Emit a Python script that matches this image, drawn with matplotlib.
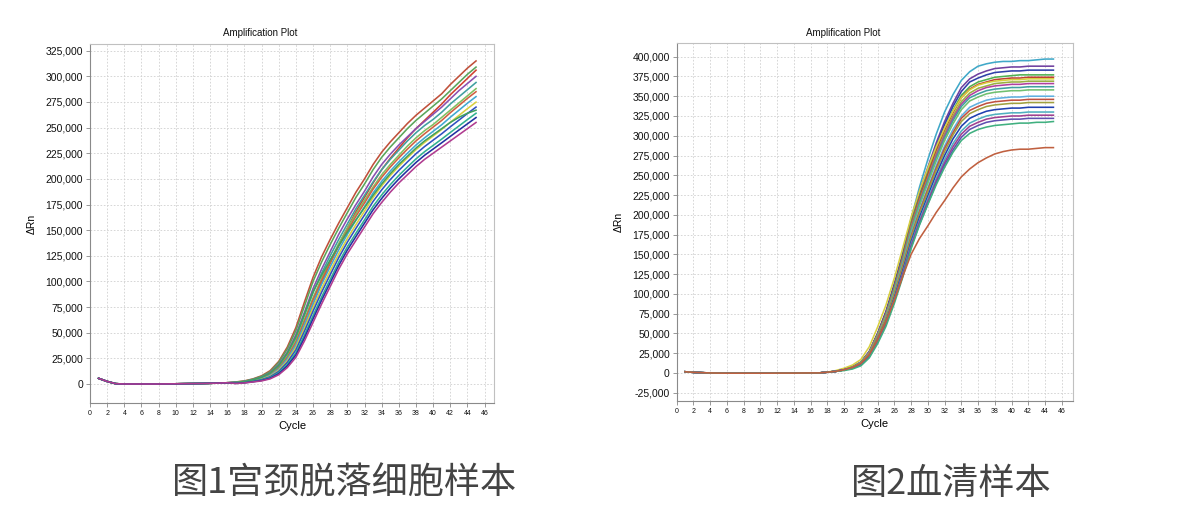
import matplotlib
matplotlib.use("Agg")
import matplotlib.pyplot as plt
from matplotlib.ticker import FuncFormatter, MultipleLocator

plt.rcParams['font.family'] = ['Liberation Sans', 'DejaVu Sans']

# values in thousands of delta Rn
cycles = list(range(1, 46))

# cycles 1-16 (baseline), shared by all wells of a plate
base1 = [5.5, 2.5, 0.3, 0, 0, 0, 0, 0, 0.1, 0.2, 0.3, 0.4, 0.5, 0.7, 0.9, 1.2]
base2 = [1.5, 0.8, 0.3, 0, -0.2, -0.3, -0.3, -0.3, -0.3, -0.3, -0.3, -0.2, -0.2, -0.2, -0.1, 0]

# cycles 17-45, cervical exfoliated cells
rise1 = [
    [2, 3, 5, 8, 13, 22, 36, 55, 80, 104, 124, 141, 157, 172, 187, 200, 214, 226, 236, 245, 254, 262, 269, 276, 283, 292, 300, 308, 315],
    [1.9, 2.8, 4.7, 7.5, 12, 21, 34, 52, 76, 100, 119, 136, 152, 167, 182, 195, 209, 221, 231, 240, 249, 257, 264, 271, 278, 286, 294, 302, 309],
    [1, 1.8, 3, 4.5, 7.5, 13, 23, 37, 56, 78, 99, 118, 136, 152, 168, 182, 196, 209, 220, 230, 240, 249, 257, 265, 273, 282, 290, 298, 306],
    [1.6, 2.5, 4.2, 6.8, 11, 19, 31, 48, 70, 93, 112, 129, 146, 161, 175, 188, 202, 214, 224, 233, 241, 249, 256, 263, 270, 278, 286, 293, 300],
    [1.5, 2.3, 4, 6.3, 10.2, 17.5, 29, 45, 67, 89, 108, 125, 141, 156, 171, 184, 197, 209, 219, 228, 237, 245, 252, 258, 265, 273, 280, 287, 294],
    [1.3, 2.1, 3.7, 5.8, 9.4, 16, 27, 42, 63, 84, 103, 120, 137, 152, 166, 179, 192, 204, 214, 223, 232, 240, 247, 253, 260, 267, 274, 281, 288],
    [1.2, 2, 3.5, 5.5, 9, 15.5, 26, 40.5, 61, 82, 101, 118, 134.5, 149.5, 163.5, 176.5, 190, 201.5, 211.5, 220.5, 229, 237, 244, 250.5, 257, 264.5, 271.5, 278.5, 285],
    [1.1, 1.8, 3.3, 5.1, 8.4, 14.5, 24.4, 38.2, 58, 78.5, 97.3, 114.3, 130.9, 145.9, 159.7, 172.7, 186.2, 197.6, 207.6, 216.6, 225, 233, 240, 246.4, 252.8, 260.1, 266.9, 273.8, 280.2],
    [1, 1.7, 3, 4.7, 7.6, 13.3, 22.6, 35.6, 54.5, 74.5, 93.2, 110.2, 126.9, 141.9, 155.5, 168.5, 181.8, 193.2, 203.2, 212.2, 220.5, 228.5, 235.5, 241.8, 248.2, 255.2, 261.8, 268.5, 274.8],
    [0.9, 1.5, 2.75, 4.25, 7, 12.25, 21, 33.25, 51.5, 71, 89.5, 106.5, 123.25, 138.25, 151.75, 164.75, 178, 189.25, 199.25, 208.25, 216.5, 224.5, 231.5, 237.75, 244, 250.75, 257.25, 263.75, 270],
    [1.5, 2.4, 4.1, 6.5, 10.6, 18, 30, 46, 68, 90, 106, 121, 135, 148, 160, 172, 184, 195, 205, 214, 222, 230, 237, 243, 249, 255, 260, 264, 267],
    [0.7, 1.3, 2.45, 3.75, 6.2, 10.95, 19, 30.35, 47.7, 66.6, 84.9, 101.9, 118.75, 133.75, 147.05, 160.05, 173.2, 184.35, 194.35, 203.35, 211.5, 219.5, 226.5, 232.65, 238.8, 245.25, 251.55, 257.85, 264],
    [0.6, 1.2, 2.2, 3.4, 5.6, 10, 17.6, 28.3, 45, 63.5, 81.7, 98.7, 115.6, 130.6, 143.8, 156.8, 169.8, 180.9, 190.9, 199.9, 208, 216, 223, 229.1, 235.2, 241.4, 247.6, 253.7, 259.8],
    [0.5, 1, 2, 3, 5, 9, 16, 26, 42, 60, 78, 95, 112, 127, 140, 153, 166, 177, 187, 196, 204, 212, 219, 225, 231, 237, 243, 249, 255],
]
colors1 = ['#c0503a', '#5aa55a', '#d04030', '#8a4fb0', '#40a0a0', '#80c060', '#d06040',
           '#40a8d0', '#d8d040', '#3050c0', '#40a060', '#30b090', '#2030a0', '#b03c90']

# cycles 17-45, serum
rise2 = [
    [0, 1, 2, 4, 6, 10, 20, 40, 70, 108, 150, 195, 235, 270, 302, 330, 352, 370, 381, 388, 391, 393, 394, 394, 395, 395, 396, 397, 397],
    [0, 1, 2, 5, 8, 14, 27, 50, 78, 113, 151, 194, 229, 260, 291, 318, 341, 361, 372, 378, 382, 385, 386, 387, 387, 388, 388, 388, 388],
    [0, 1, 2, 5, 8, 13, 27, 50, 77, 111, 149, 192, 226, 257, 287, 314, 337, 356, 368, 373, 377, 380, 381, 382, 382, 383, 383, 383, 383],
    [0, 1, 2, 5, 8, 13, 26, 49, 75, 109, 147, 189, 222, 253, 283, 309, 332, 351, 362, 368, 371, 374, 375, 376, 377, 377, 377, 377, 377],
    [0, 1, 2, 4, 7, 13, 26, 49, 75, 108, 146, 187, 221, 251, 281, 307, 329, 348, 359, 365, 368, 371, 372, 373, 373, 374, 374, 374, 374],
    [0, 1, 3, 6, 10, 17, 33, 58, 86, 120, 158, 197, 230, 259, 286, 310, 331, 348, 358, 364, 367, 369, 370, 371, 371, 372, 372, 372, 372],
    [0, 1, 2, 4, 7, 13, 26, 48, 74, 107, 144, 185, 218, 247, 277, 303, 325, 343, 354, 360, 363, 366, 367, 368, 368, 369, 369, 369, 369],
    [0, 1, 2, 4, 7, 13, 26, 48, 73, 106, 143, 183, 216, 245, 275, 300, 322, 340, 351, 357, 361, 363, 364, 365, 365, 366, 366, 366, 366],
    [0, 1, 2, 4, 7, 13, 25, 47, 72, 105, 141, 181, 214, 243, 272, 297, 319, 337, 348, 353, 357, 359, 360, 361, 361, 362, 362, 362, 362],
    [0, 1, 2, 4, 7, 13, 25, 47, 72, 104, 140, 179, 211, 240, 268, 294, 315, 333, 344, 349, 353, 355, 356, 357, 357, 358, 358, 358, 358],
    [0, 1, 2, 4, 7, 12, 24, 45, 70, 101, 136, 175, 206, 234, 262, 287, 308, 325, 336, 341, 345, 347, 348, 349, 349, 350, 350, 350, 350],
    [0, 1, 2, 4, 7, 12, 24, 45, 69, 100, 135, 173, 204, 232, 259, 284, 304, 322, 332, 337, 341, 343, 344, 345, 345, 346, 346, 346, 346],
    [0, 1, 2, 4, 7, 12, 24, 44, 68, 99, 133, 171, 202, 229, 256, 280, 301, 318, 328, 333, 337, 339, 340, 341, 341, 342, 342, 342, 342],
    [0, 1, 2, 4, 6, 11, 22, 42, 65, 95, 129, 166, 197, 224, 251, 275, 296, 312, 322, 327, 331, 333, 334, 335, 335, 336, 336, 336, 336],
    [0, 1, 2, 4, 6, 11, 22, 41, 64, 93, 126, 163, 193, 220, 246, 270, 290, 306, 316, 321, 325, 327, 328, 329, 329, 330, 330, 330, 330],
    [0, 1, 2, 4, 6, 11, 22, 41, 63, 92, 125, 161, 191, 217, 243, 266, 286, 302, 312, 317, 321, 323, 324, 325, 325, 326, 326, 326, 326],
    [0, 1, 2, 4, 6, 11, 21, 40, 62, 91, 123, 159, 188, 214, 240, 263, 282, 298, 308, 313, 317, 319, 320, 321, 321, 322, 322, 322, 322],
    [0, 1, 2, 3, 5, 9, 19, 37, 59, 88, 121, 157, 187, 213, 238, 260, 279, 294, 303, 308, 311, 313, 314, 315, 316, 316, 317, 317, 318],
    [0, 1, 2, 4, 7, 12, 23, 42, 65, 92, 122, 150, 170, 186, 203, 218, 234, 248, 258, 266, 272, 277, 280, 282, 283, 283, 284, 285, 285],
]
colors2 = ['#40a8c8', '#7040a0', '#3040a8', '#50b050', '#c04030', '#d8d040', '#9ab040',
           '#b040a0', '#40a0a0', '#70c070', '#60b0e0', '#c05040', '#a0a040', '#2040b0',
           '#50b0c0', '#a04090', '#6050b0', '#40b080', '#c06040']

captions = ['图1宫颈脱落细胞样本', '图2血清样本']

fig = plt.figure(figsize=(12, 5.31), dpi=100)


def draw_panel(rect, base, rises, colors, ylim, xmax, yticks):
    ax = fig.add_axes(rect)
    for r, c in zip(rises, colors):
        ax.plot(cycles, base + r, color=c, lw=1.15)
    ax.set_xlim(0, xmax)
    ax.set_ylim(*ylim)
    ax.xaxis.set_major_locator(MultipleLocator(2))
    ax.set_yticks(yticks)
    ax.yaxis.set_major_formatter(FuncFormatter(lambda v, p: f"{v * 1000:,.0f}"))
    ax.grid(True, color='#d0d0d0', lw=0.6, ls=(0, (2, 2)))
    ax.tick_params(axis='y', labelsize=7.5, length=3, width=0.6, color='#888', pad=2, labelcolor='#111')
    ax.tick_params(axis='x', labelsize=5, length=3, width=0.6, color='#888', pad=2, labelcolor='#111')
    for s in ['left', 'bottom']:
        ax.spines[s].set_color('#8a8a8a')
    for s in ['top', 'right']:
        ax.spines[s].set_color('#c0c0c0')
    ax.set_xlabel('Cycle', fontsize=8, labelpad=3)
    ax.set_ylabel('ΔRn', fontsize=7.5, labelpad=6)
    return ax


draw_panel([0.075, 0.2411, 0.3367, 0.676], base1, rise1, colors1,
           (-18.5, 331.5), 47.1, list(range(0, 326, 25)))
draw_panel([0.5639, 0.2448, 0.33, 0.6748], base2, rise2, colors2,
           (-35.5, 417.7), 47.3, list(range(-25, 401, 25)))

fig.text(260 / 1200, 1 - 33 / 531, 'Amplification Plot', ha='center', va='center', fontsize=7, color='#111')
fig.text(843 / 1200, 1 - 33 / 531, 'Amplification Plot', ha='center', va='center', fontsize=7, color='#111')

cjk = ['Noto Sans CJK SC', 'DejaVu Sans']
fig.text(345 / 1200, 1 - 484 / 531, captions[0], ha='center', va='center', fontsize=26, color='#444', family=cjk)
fig.text(951 / 1200, 1 - 484 / 531, captions[1], ha='center', va='center', fontsize=26, color='#444', family=cjk)

fig.savefig('out.png', dpi=100)
